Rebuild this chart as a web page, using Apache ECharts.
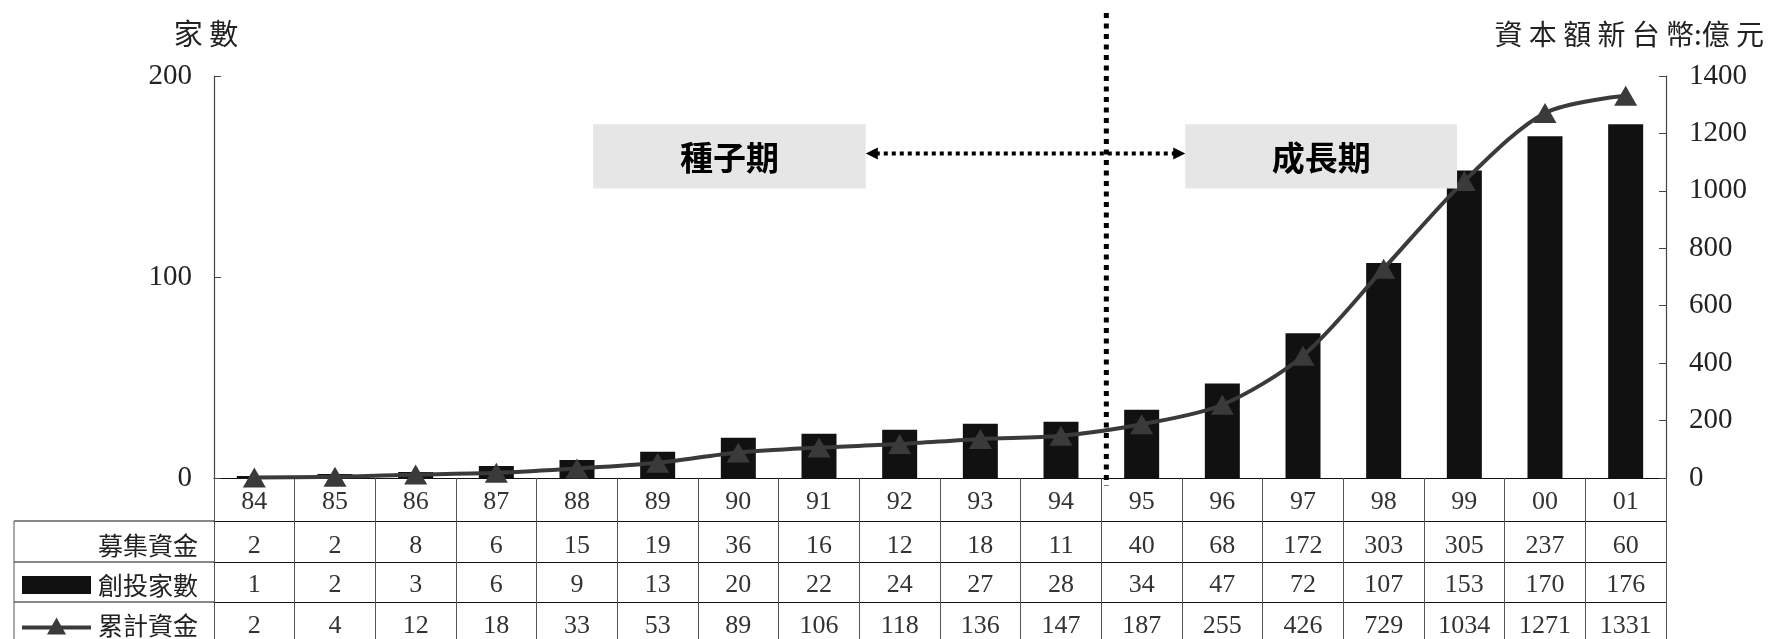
<!DOCTYPE html>
<html><head><meta charset="utf-8">
<script src="https://cdn.jsdelivr.net/npm/echarts@6/dist/echarts.min.js"></script>
<style>html,body{margin:0;padding:0;background:#fff}#c{width:1773px;height:639px}</style>
</head><body><div id="c"></div>
<script>
// ---- data ----
const years = ['84','85','86','87','88','89','90','91','92','93','94','95','96','97','98','99','00','01'];
const fundsRaised = [2,2,8,6,15,19,36,16,12,18,11,40,68,172,303,305,237,60];
const vcCount = [1,2,3,6,9,13,20,22,24,27,28,34,47,72,107,153,170,176];
const cumFunds = [2,4,12,18,33,53,89,106,118,136,147,187,255,426,729,1034,1271,1331];
const rowLabels = ['募集資金','創投家數','累計資金'];
const leftAxisRange = [0, 200, 100];
const rightAxisRange = [0, 1400, 200];
const leftTitle = '家 數';
const rightTitle = '資 本 額 新 台 幣:億 元';
const seedLabel = '種子期';
const growthLabel = '成長期';

// ---- layout ----
const NUM_FONT = '"Liberation Serif", "Times New Roman", serif';
const CJK_FONT = '"Noto Sans CJK TC", "Noto Sans CJK SC", sans-serif';
const rowOffsets = [43, 84, 124];   // table row lines below axis
const rowHeights = [43, 41, 40, 41];
const GRID = {left: 214, right: 107, top: 76, bottom: 159};
const LINE_COLOR = '#3a3a3a';

const chart = echarts.init(document.getElementById('c'), null, {renderer: 'canvas'});

function tableAxis(data, offset, tickLen, margin) {
  return {
    type: 'category', data: data, position: 'bottom', offset: offset, gridIndex: 0,
    axisLine: {show: true, onZero: false, lineStyle: {color: '#111', width: 1.2}},
    axisTick: {show: true, interval: 0, length: tickLen, inside: false, lineStyle: {color: '#555', width: 1}},
    axisLabel: {interval: 0, margin: margin, fontFamily: NUM_FONT, fontSize: 26, color: '#333'},
    splitLine: {show: false}
  };
}

const option = {
  animation: false,
  backgroundColor: '#fff',
  grid: {left: GRID.left, right: GRID.right, top: GRID.top, bottom: GRID.bottom, containLabel: false},
  xAxis: [
    tableAxis(years, 0, rowHeights[0], 11),
    tableAxis(fundsRaised.map(String), rowOffsets[0], rowHeights[1], 12),
    tableAxis(vcCount.map(String), rowOffsets[1], rowHeights[2], 10),
    tableAxis(cumFunds.map(String), rowOffsets[2], rowHeights[3] + 10, 11)
  ],
  yAxis: [
    {type: 'value', position: 'left', min: leftAxisRange[0], max: leftAxisRange[1], interval: leftAxisRange[2],
     axisLine: {show: true, lineStyle: {color: '#444', width: 1.2}},
     axisTick: {show: true, inside: true, length: 7, lineStyle: {color: '#444'}},
     axisLabel: {margin: 22, fontFamily: NUM_FONT, fontSize: 29, color: '#222', formatter: v => String(v)},
     splitLine: {show: false}},
    {type: 'value', position: 'right', min: rightAxisRange[0], max: rightAxisRange[1], interval: rightAxisRange[2],
     axisLine: {show: true, lineStyle: {color: '#444', width: 1.2}},
     axisTick: {show: true, inside: true, length: 7, lineStyle: {color: '#444'}},
     axisLabel: {margin: 23, fontFamily: NUM_FONT, fontSize: 29, color: '#222', formatter: v => String(v)},
     splitLine: {show: false}}
  ],
  series: [
    {name: rowLabels[1], type: 'bar', xAxisIndex: 0, yAxisIndex: 0, data: vcCount,
     barWidth: 35, itemStyle: {color: '#111'}, z: 2},
    {name: rowLabels[2], type: 'line', xAxisIndex: 0, yAxisIndex: 1, data: cumFunds,
     smooth: 0.3, symbol: 'triangle', symbolSize: [23, 20],
     lineStyle: {color: LINE_COLOR, width: 4}, itemStyle: {color: LINE_COLOR}, z: 3}
  ]
};
chart.setOption(option);

// ---- annotations derived from the axes ----
const c0 = chart.convertToPixel({xAxisIndex: 0}, 0);
const c1 = chart.convertToPixel({xAxisIndex: 0}, 1);
const band = c1 - c0;
const leftEdge = c0 - band / 2;
const rightEdge = leftEdge + band * years.length;
const zeroY = chart.convertToPixel({yAxisIndex: 0}, 0);
const topY = chart.convertToPixel({yAxisIndex: 0}, leftAxisRange[1]);
const atCat = f => leftEdge + band * f;
const atVal = v => chart.convertToPixel({yAxisIndex: 0}, v);

const graphics = [];
// axis titles
graphics.push({type: 'text', x: leftEdge - 8, y: topY - 42,
  style: {text: leftTitle, font: '29px ' + CJK_FONT, fill: '#222', textAlign: 'center', textVerticalAlign: 'middle'}});
graphics.push({type: 'text', x: rightEdge + 98, y: topY - 42,
  style: {text: rightTitle, font: '28px ' + CJK_FONT, fill: '#222', textAlign: 'right', textVerticalAlign: 'middle'}});
// table left column lines
rowOffsets.forEach(off => {
  graphics.push({type: 'line', shape: {x1: 14, y1: zeroY + off, x2: leftEdge, y2: zeroY + off},
    style: {stroke: '#111', lineWidth: 1.2}});
});
graphics.push({type: 'line', shape: {x1: 14, y1: zeroY + rowOffsets[0], x2: 14, y2: 660},
  style: {stroke: '#555', lineWidth: 1}});
// row labels
const rowCenters = [
  zeroY + rowOffsets[0] + rowHeights[1] / 2 + 4,
  zeroY + rowOffsets[1] + rowHeights[2] / 2 + 3,
  zeroY + rowOffsets[2] + rowHeights[3] / 2 + 3
];
rowLabels.forEach((t, i) => {
  graphics.push({type: 'text', x: leftEdge - 16, y: rowCenters[i],
    style: {text: t, font: '25px ' + CJK_FONT, fill: '#222', textAlign: 'right', textVerticalAlign: 'middle'}});
});
// legend keys in table
graphics.push({type: 'rect', shape: {x: 22, y: rowCenters[1] - 9, width: 69, height: 18}, style: {fill: '#111'}});
graphics.push({type: 'line', shape: {x1: 22, y1: rowCenters[2] + 2, x2: 91, y2: rowCenters[2] + 2},
  style: {stroke: LINE_COLOR, lineWidth: 4}});
graphics.push({type: 'polygon', shape: {points: [[56.5, rowCenters[2] - 8], [47, rowCenters[2] + 9], [66, rowCenters[2] + 9]]},
  style: {fill: LINE_COLOR}});
// phase divider (between 94 and 95)
const divX = atCat(11) + 5;
graphics.push({type: 'line', shape: {x1: divX, y1: 13, x2: divX, y2: zeroY + 8},
  style: {stroke: '#000', lineWidth: 5, lineDash: [5, 5.5]}, z: 10});
// phase boxes
const boxTop = atVal(176), boxBot = atVal(144);
const boxes = [[4.7, 8.08, seedLabel], [12.04, 15.41, growthLabel]];
boxes.forEach(b => {
  const x1 = atCat(b[0]), x2 = atCat(b[1]);
  graphics.push({type: 'rect', shape: {x: x1, y: boxTop, width: x2 - x1, height: boxBot - boxTop},
    style: {fill: '#e6e6e6'}, z: 5});
  graphics.push({type: 'text', x: (x1 + x2) / 2, y: (boxTop + boxBot) / 2 + 1,
    style: {text: b[2], font: 'bold 33px ' + CJK_FONT, fill: '#000', textAlign: 'center', textVerticalAlign: 'middle'}, z: 6});
});
// double-headed dotted arrow
const ay = (boxTop + boxBot) / 2 - 3;
const ax1 = atCat(boxes[0][1]), ax2 = atCat(boxes[1][0]);
graphics.push({type: 'line', shape: {x1: ax1 + 10, y1: ay, x2: ax2 - 10, y2: ay},
  style: {stroke: '#000', lineWidth: 4, lineDash: [4, 4]}, z: 10});
graphics.push({type: 'polygon', shape: {points: [[ax1, ay], [ax1 + 12, ay - 6], [ax1 + 12, ay + 6]]},
  style: {fill: '#000'}, z: 10});
graphics.push({type: 'polygon', shape: {points: [[ax2, ay], [ax2 - 12, ay - 6], [ax2 - 12, ay + 6]]},
  style: {fill: '#000'}, z: 10});

chart.setOption({graphic: graphics});
</script>
</body></html>
